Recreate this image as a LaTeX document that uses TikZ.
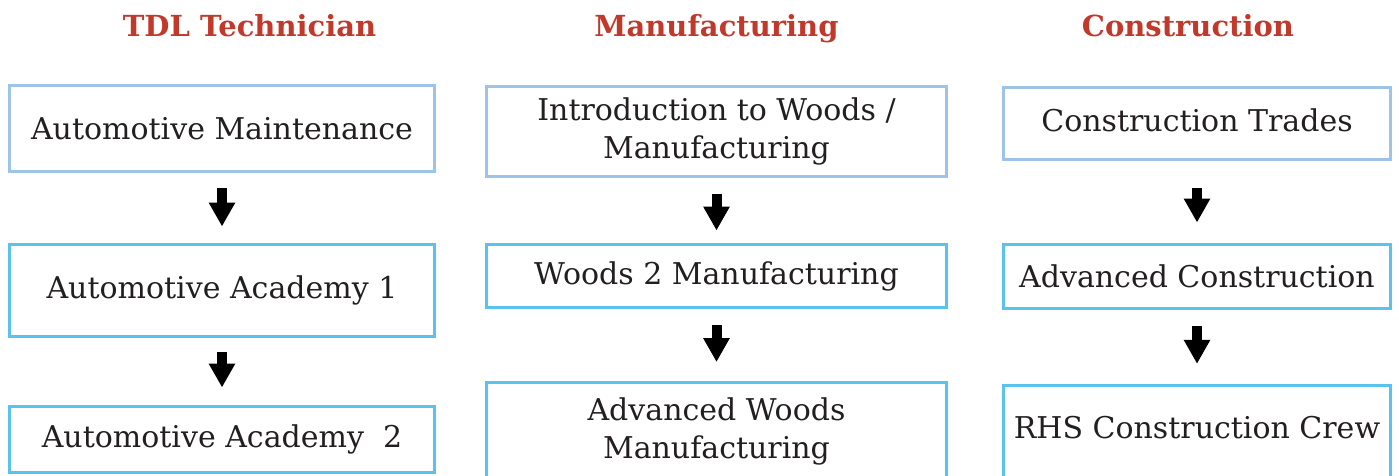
\documentclass[tikz,border=0pt]{standalone}
\usepackage{fontspec}
\setmainfont{DejaVu Serif}
\usetikzlibrary{arrows.meta}

\definecolor{titlered}{HTML}{C0392B}
\definecolor{paleblue}{HTML}{9DC3E6}
\definecolor{skyblue}{HTML}{5BC2EE}
\definecolor{inkgray}{HTML}{231F20}

\tikzset{
  heading/.style={font=\fontsize{29}{34}\selectfont\bfseries, text=titlered, anchor=base, inner sep=0pt},
  course/.style={draw=skyblue, line width=3pt, fill=white, text=inkgray,
    font=\fontsize{30}{38.5}\selectfont, align=center, inner sep=0pt},
  firstcourse/.style={course, draw=paleblue},
  nextstep/.style 2 args={line width=10pt, -{Triangle[width=25pt,length=24pt]},
    shorten <=#1, shorten >=#2},
}

\begin{document}
\begin{tikzpicture}[x=1pt,y=-1pt]
  \useasboundingbox (0,0) rectangle (1399,476);
  \clip (0,0) rectangle (1399,476);
  % column headings
  \node[heading] (hTDL) at (249.5,37) {TDL Technician};
  \node[heading] (hManu) at (716.5,37) {Manufacturing};
  \node[heading] (hCons) at (1188,37) {Construction};
  % TDL technician
  \node[firstcourse, minimum width=425pt, minimum height=86pt] (autoMaint) at (222,128.5) {Automotive Maintenance};
  \node[course, minimum width=425pt, minimum height=92pt] (autoAcadA) at (222,290.5) {Automotive Academy 1};
  \node[course, minimum width=425pt, minimum height=66pt] (autoAcadB) at (222,439.5) {Automotive Academy~\ 2};
  \draw[nextstep={14.5pt}{16.5pt}] (autoMaint) -- (autoAcadA);
  \draw[nextstep={14pt}{17.5pt}] (autoAcadA) -- (autoAcadB);
  % manufacturing
  \node[firstcourse, minimum width=460pt, minimum height=90pt] (woodsIntro) at (716.5,131.5) {Introduction to Woods /\\Manufacturing};
  \node[course, minimum width=460pt, minimum height=63pt] (woodsTwo) at (716.5,276) {Woods 2 Manufacturing};
  \node[course, minimum width=460pt, minimum height=98pt] (woodsAdv) at (716.5,431.5) {Advanced Woods\\Manufacturing};
  \draw[nextstep={15.5pt}{12.5pt}] (woodsIntro) -- (woodsTwo);
  \draw[nextstep={16pt}{19pt}] (woodsTwo) -- (woodsAdv);
  % construction
  \node[firstcourse, minimum width=387pt, anchor=north, inner ysep=0pt, text height=44pt, text depth=28.5pt] (consTrades) at (1197,85.8) {Construction Trades};
  \node[course, minimum width=387pt, minimum height=64pt] (consAdv) at (1197,276) {Advanced Construction};
  \node[course, minimum width=387pt, anchor=north, inner ysep=0pt, text height=53pt, text depth=50pt] (consCrew) at (1197,383.5) {RHS Construction Crew};
  \draw[nextstep={26.5pt}{20pt}] (consTrades) -- (consAdv);
  \draw[nextstep={16pt}{19.7pt}] (consAdv) -- (consCrew);
\end{tikzpicture}
\end{document}
